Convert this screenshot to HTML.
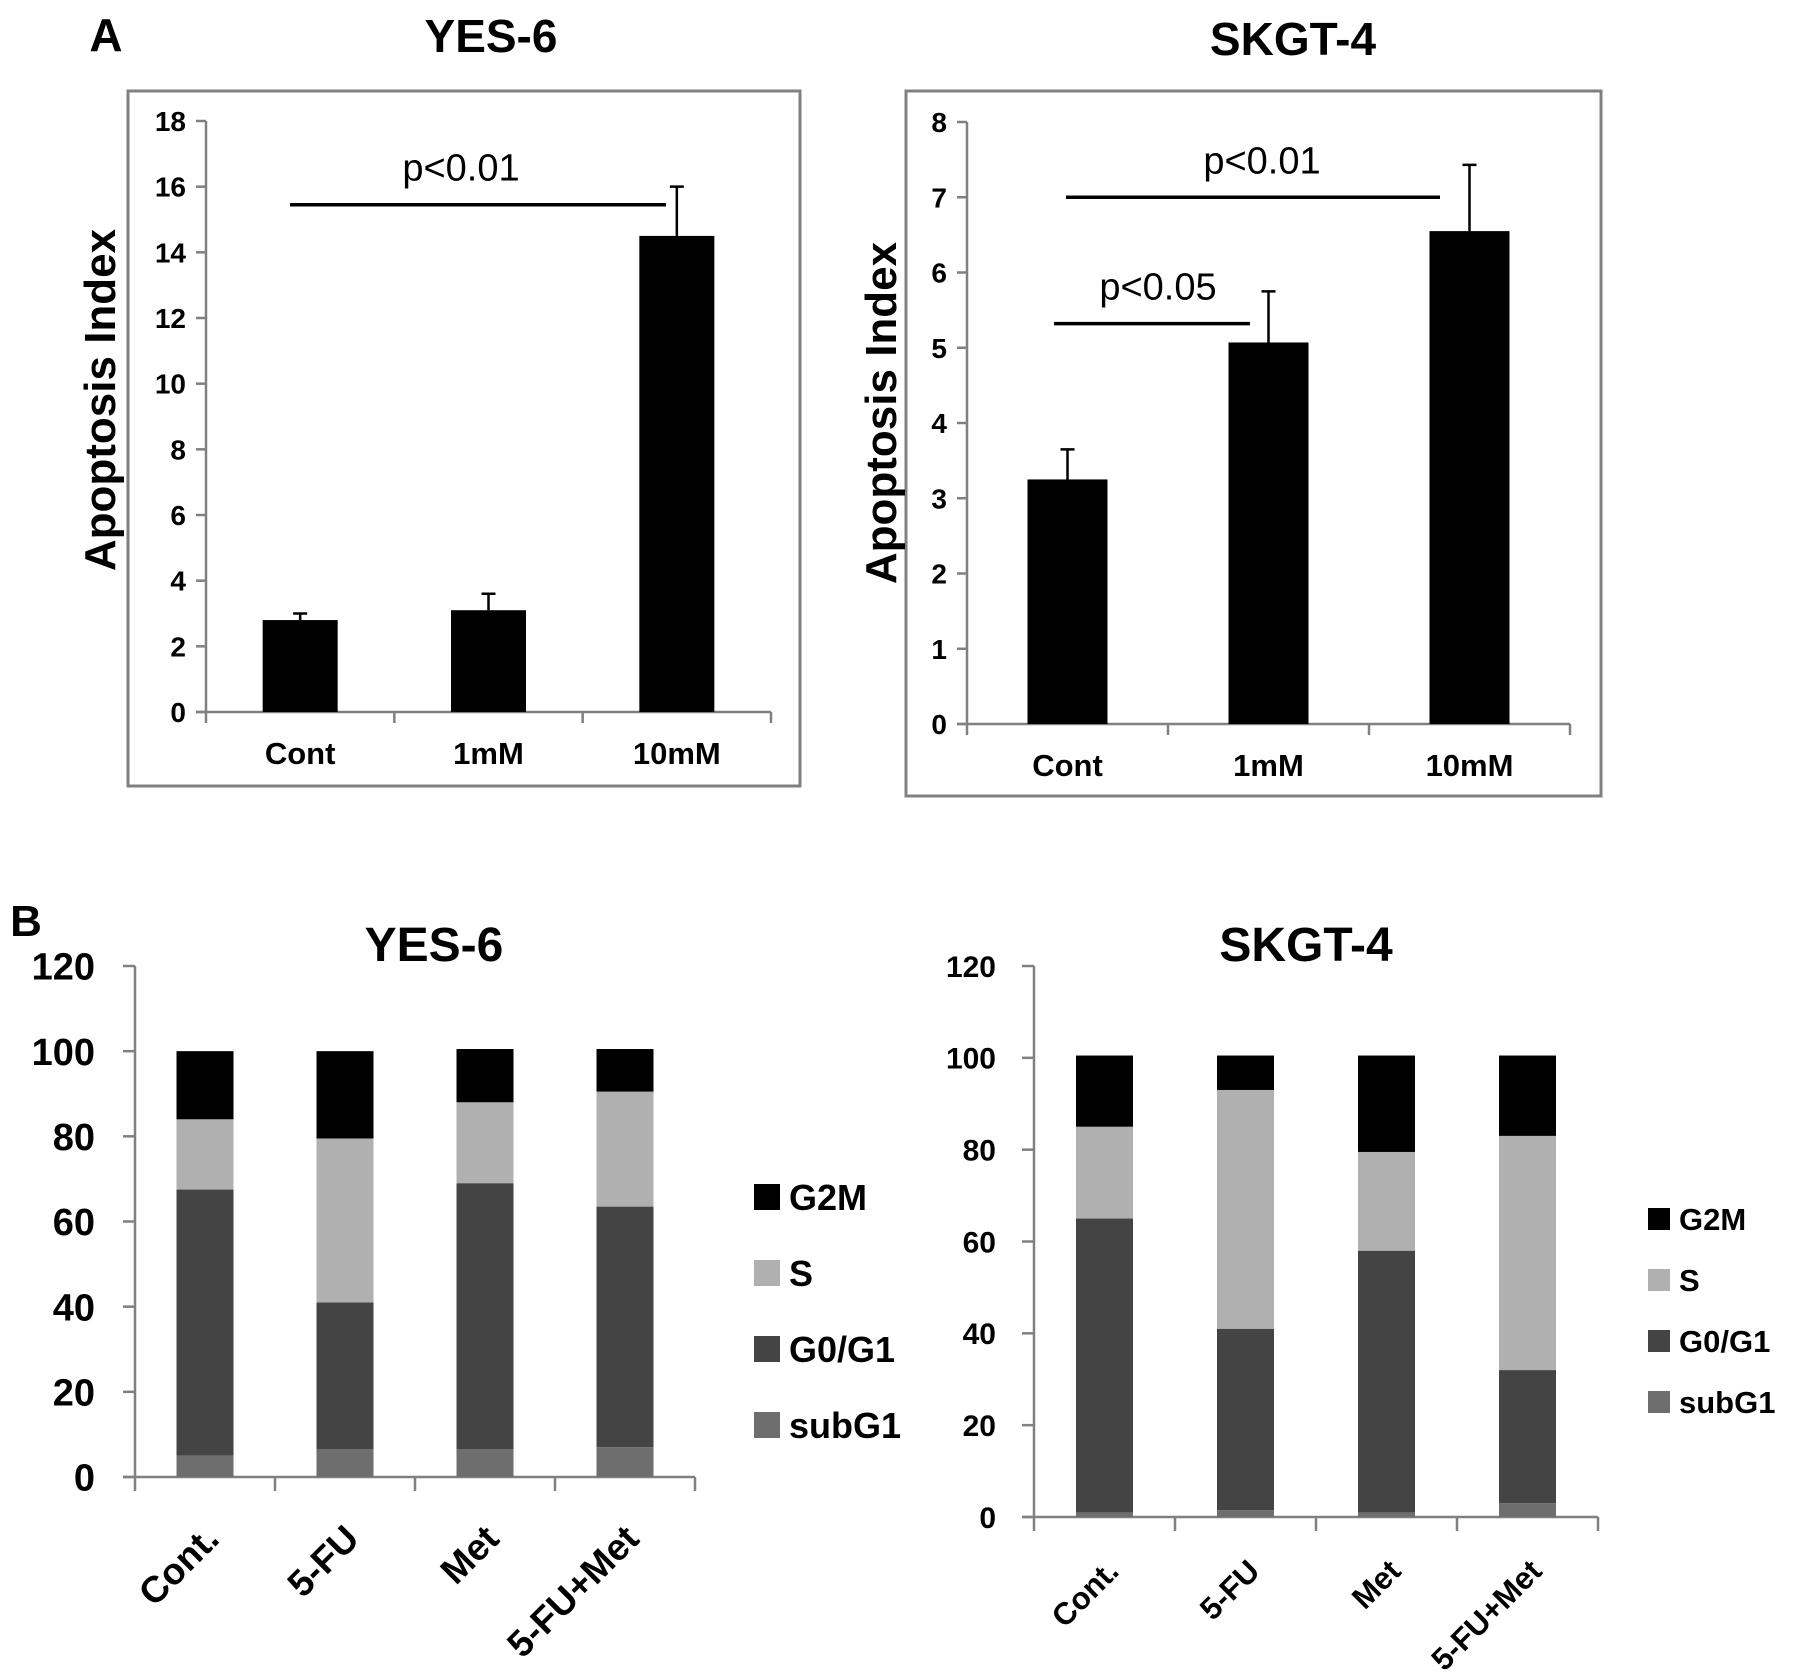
<!DOCTYPE html>
<html><head><meta charset="utf-8"><style>
html,body{margin:0;padding:0;background:#fff;}
svg{display:block;font-family:"Liberation Sans",sans-serif;}
</style></head><body>
<svg id="fig" width="1795" height="1676" viewBox="0 0 1795 1676" xmlns="http://www.w3.org/2000/svg">
<text x="106" y="51" font-size="46" font-weight="bold" text-anchor="middle">A</text>
<text x="26" y="936" font-size="44" font-weight="bold" text-anchor="middle">B</text>
<g id="aL"></g>
<g id="aR"></g>
<g id="bL"></g>
<g id="bR"></g>
</svg>
<script>
// ---- Panel A data ----
const aCategories = ["Cont","1mM","10mM"];
const yes6Means = [2.8, 3.1, 14.5];
const yes6Errors = [0.2, 0.5, 1.5];
const yes6Ticks = [0,2,4,6,8,10,12,14,16,18];
const skgtMeans = [3.25, 5.07, 6.55];
const skgtErrors = [0.4, 0.68, 0.88];
const skgtTicks = [0,1,2,3,4,5,6,7,8];
// ---- Panel B data ----
const bCategories = ["Cont.","5-FU","Met","5-FU+Met"];
const phaseNames = ["subG1","G0/G1","S","G2M"];
const yes6SubG1 = [5, 6.5, 6.5, 7];
const yes6G0G1 = [62.5, 34.5, 62.5, 56.5];
const yes6S = [16.5, 38.5, 19, 27];
const yes6G2M = [16, 20.5, 12.5, 10];
const skgtSubG1 = [1, 1.5, 1, 3];
const skgtG0G1 = [64, 39.5, 57, 29];
const skgtS = [20, 52, 21.5, 51];
const skgtG2M = [15.5, 7.5, 21, 17.5];
const bTicks = [0,20,40,60,80,100,120];

const NS="http://www.w3.org/2000/svg";
function mk(parent,tag,attrs,text){const e=document.createElementNS(NS,tag);for(const k in attrs)e.setAttribute(k,attrs[k]);if(text!==undefined)e.textContent=text;parent.appendChild(e);return e;}

function barChart(g,o){
  const y=v=>o.y0-(v-o.ymin)/(o.ymax-o.ymin)*(o.y0-o.ytop);
  const cw=(o.xend-o.x0)/o.cats.length;
  const cx=i=>o.x0+cw*(i+0.5);
  let e=mk(g,"rect",{x:o.box[0],y:o.box[1],width:o.box[2],height:o.box[3],fill:"none",stroke:"#808080","stroke-width":3});
  
  
  e=mk(g,"text",{x:o.title[0],y:o.title[1],"font-size":46,"font-weight":"bold","text-anchor":"middle"},o.titleText);
  
  
  e=mk(g,"text",{x:0,y:0,"font-size":44,"font-weight":"bold","text-anchor":"middle",transform:`translate(${o.ylab[0]},${o.ylab[1]}) rotate(-90)`},"Apoptosis Index");
  
  
  e=mk(g,"line",{x1:o.x0,y1:y(o.ticks[o.ticks.length-1]),x2:o.x0,y2:o.y0,stroke:"#808080","stroke-width":2.5});
  
  
  e=mk(g,"line",{x1:o.x0-10,y1:o.y0,x2:o.xend,y2:o.y0,stroke:"#808080","stroke-width":2.5});
  
  
  o.ticks.forEach(t=>{
    let l=mk(g,"line",{x1:o.x0-10,y1:y(t),x2:o.x0,y2:y(t),stroke:"#808080","stroke-width":2.5});
    
    
    let tx=mk(g,"text",{x:o.x0-20,y:y(t)+10,"font-size":28,"font-weight":"bold","text-anchor":"end"},String(t));
    
    
  });
  for(let i=0;i<=o.cats.length;i++){
    let l=mk(g,"line",{x1:o.x0+cw*i,y1:o.y0,x2:o.x0+cw*i,y2:o.y0+11,stroke:"#808080","stroke-width":2.5});
    
    
  }
  o.cats.forEach((c,i)=>{
    let tx=mk(g,"text",{x:cx(i),y:o.y0+52,"font-size":31,"font-weight":"bold","text-anchor":"middle"},c);
    
    
    let b=mk(g,"rect",{x:cx(i)-o.bw/2,y:y(o.means[i]),width:o.bw,height:o.y0-y(o.means[i]),fill:"#000"});
    
    
    let top=y(o.means[i]+o.errs[i]);
    let eb=mk(g,"path",{d:`M${cx(i)},${y(o.means[i])}V${top}M${cx(i)-7},${top}H${cx(i)+7}`,stroke:"#000","stroke-width":2.5,fill:"none"});
    
    
  });
  o.sig.forEach(s=>{
    let l=mk(g,"line",{x1:s.x1,y1:y(s.v),x2:s.x2,y2:y(s.v),stroke:"#000","stroke-width":3.5});
    
    
    let t=mk(g,"text",{x:(s.x1+s.x2)/2+s.dx,y:y(s.v)-24,"font-size":38,"text-anchor":"middle"},s.label);
    
    
  });
}

barChart(document.getElementById("aL"),{box:[128,91,672,695],title:[491,52],titleText:"YES-6",ylab:[115,400],
  x0:206,xend:771,y0:712,ytop:121,ymin:0,ymax:18,ticks:yes6Ticks,cats:aCategories,means:yes6Means,errs:yes6Errors,bw:75,
  sig:[{x1:290,x2:666,v:15.45,label:"p<0.01",dx:-17}]});
barChart(document.getElementById("aR"),{box:[906,91,695,705],title:[1293,55],titleText:"SKGT-4",ylab:[896,413],
  x0:967,xend:1570,y0:724,ytop:122,ymin:0,ymax:8,ticks:skgtTicks,cats:aCategories,means:skgtMeans,errs:skgtErrors,bw:80,
  sig:[{x1:1066,x2:1440,v:7.0,label:"p<0.01",dx:9},{x1:1054,x2:1250,v:5.32,label:"p<0.05",dx:6}]});

const colors=["#6e6e6e","#444444","#b0b0b0","#000000"];
function stacked(g,o){
  const y=v=>o.y0-v/120*(o.y0-o.ytop);
  const cw=(o.xend-o.x0)/bCategories.length;
  const cx=i=>o.x0+cw*(i+0.5);
  let e=mk(g,"text",{x:o.title[0],y:o.title[1],"font-size":48,"font-weight":"bold","text-anchor":"middle"},o.titleText);
  
  
  e=mk(g,"line",{x1:o.x0,y1:o.ytop,x2:o.x0,y2:o.y0,stroke:"#808080","stroke-width":2.5});
  
  
  e=mk(g,"line",{x1:o.x0-12,y1:o.y0,x2:o.xend,y2:o.y0,stroke:"#808080","stroke-width":2.5});
  
  
  bTicks.forEach(t=>{
    let l=mk(g,"line",{x1:o.x0-12,y1:y(t),x2:o.x0,y2:y(t),stroke:"#808080","stroke-width":2.5});
    
    
    let tx=mk(g,"text",{x:o.x0-o.labGap,y:y(t)+o.fs*0.36,"font-size":o.fs,"font-weight":"bold","text-anchor":"end"},String(t));
    
    
  });
  for(let i=0;i<=bCategories.length;i++){
    let l=mk(g,"line",{x1:o.x0+cw*i,y1:o.y0,x2:o.x0+cw*i,y2:o.y0+14,stroke:"#808080","stroke-width":2.5});
    
    
  }
  bCategories.forEach((c,i)=>{
    let base=0;
    o.series.forEach((s,k)=>{
      let r=mk(g,"rect",{x:cx(i)-o.bw/2,y:y(base+s[i]),width:o.bw,height:y(base)-y(base+s[i]),fill:colors[k]});
      
      
      base+=s[i];
    });
    let tx=mk(g,"text",{x:0,y:0,"font-size":o.xfs,"font-weight":"bold","text-anchor":"end",transform:`translate(${cx(i)+16},${o.y0+o.xoff}) rotate(-45)`},c);
    
    
  });
  [3,2,1,0].forEach((k,j)=>{
    const yy=o.leg[1]+j*o.leg[2];
    let r=mk(g,"rect",{x:o.leg[0],y:yy-o.leg[3]/2,width:o.leg[3],height:o.leg[3],fill:colors[k]});
    
    
    let t=mk(g,"text",{x:o.leg[0]+o.leg[3]+9,y:yy+o.lfs*0.36,"font-size":o.lfs,"font-weight":"bold"},phaseNames[k]);
    
    
  });
}
stacked(document.getElementById("bL"),{title:[434,961],titleText:"YES-6",x0:135,xend:695,y0:1477,ytop:966,bw:57,fs:38,labGap:40,xfs:37,xoff:64,
  series:[yes6SubG1,yes6G0G1,yes6S,yes6G2M],leg:[754,1197,76,26],lfs:36});
stacked(document.getElementById("bR"),{title:[1306,961],titleText:"SKGT-4",x0:1034,xend:1598,y0:1517,ytop:966,bw:57,fs:30,labGap:38,xfs:31,xoff:56,
  series:[skgtSubG1,skgtG0G1,skgtS,skgtG2M],leg:[1648,1219,61,22],lfs:31});
</script>
</body></html>
